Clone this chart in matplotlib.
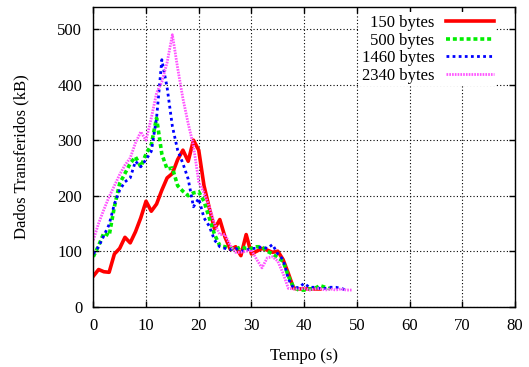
import matplotlib
matplotlib.use("Agg")
import matplotlib.pyplot as plt
import numpy as np

plt.rcParams["font.family"] = ["Liberation Serif", "DejaVu Serif"]
plt.rcParams["font.size"] = 12

# Dados (kB) por segundo para cada tamanho de pacote
labels = ["150 bytes", "500 bytes", "1460 bytes", "2340 bytes"]

red_150 = [55, 67, 63, 62, 95, 105, 125, 115, 135, 160, 190, 172, 185, 210, 232,
           240, 265, 282, 262, 300, 282, 218, 178, 140, 157, 125, 103, 108, 92, 130,
           95, 100, 105, 102, 98, 100, 85, 60, 33, 32, 32, 32, 32, 32]
green_500 = [90, 110, 133, 128, 180, 222, 240, 258, 270, 252, 275, 292, 340, 275, 248,
             250, 218, 208, 200, 205, 207, 190, 160, 130, 110, 108, 105, 103, 108, 105,
             105, 108, 108, 100, 95, 88, 82, 55, 35, 30, 30, 32, 33, 38, 35, 32]
blue_1460 = [95, 108, 128, 148, 185, 210, 225, 232, 262, 252, 265, 280, 340, 445, 395,
             325, 282, 258, 230, 180, 195, 160, 145, 120, 108, 105, 103, 105, 100, 102,
             105, 105, 108, 105, 112, 95, 85, 50, 33, 35, 42, 35, 35, 33, 33, 35, 35, 33, 30]
mag_2340 = [120, 150, 175, 198, 218, 238, 255, 268, 295, 315, 300, 340, 385, 405, 440,
            490, 430, 375, 330, 290, 225, 205, 180, 150, 130, 130, 110, 98, 98, 100,
            102, 85, 70, 88, 90, 82, 60, 33, 32, 32, 33, 30, 32, 33, 30, 32, 30, 32, 30, 30]

series = [red_150, green_500, blue_1460, mag_2340]
colors = ["#ff0000", "#00ee00", "#0000ff", "#ff55ff"]
styles = ["-", (0, (1.1, 0.8)), (0, (1.0, 1.2)), (0, (0.6, 0.4))]
widths = [2.6, 2.6, 2.0, 2.0]

fig = plt.figure(figsize=(5.29, 3.67), dpi=100)
ax = fig.add_axes([0.1764, 0.1643, 0.7971, 0.8167])

for data, lab, c, ls, lw in zip(series, labels, colors, styles, widths):
    t = np.arange(len(data))
    ax.plot(t, data, color=c, linestyle=ls, linewidth=lw, label=lab)

ax.set_xlim(0, 80)
ax.set_ylim(0, 540)
ax.set_xticks(range(0, 81, 10))
ax.set_yticks(range(0, 501, 100))
ax.tick_params(direction="in", top=True, right=True, length=4, width=1, pad=8)
ax.grid(True, linestyle=(0, (1, 2)), color="black", linewidth=0.8)
for sp in ax.spines.values():
    sp.set_linewidth(1.0)

ax.set_xlabel("Tempo (s)", labelpad=10)
ax.set_ylabel("Dados Transferidos (kB)", labelpad=20)

leg = ax.legend(loc="upper right", bbox_to_anchor=(0.955, 0.982), markerfirst=False,
                frameon=True, fancybox=False, facecolor="white", edgecolor="none",
                framealpha=1, handlelength=2.85, labelspacing=0.1, borderaxespad=0,
                borderpad=0.15, handletextpad=0.7, fontsize=12)

fig.savefig("out.png", dpi=100)
